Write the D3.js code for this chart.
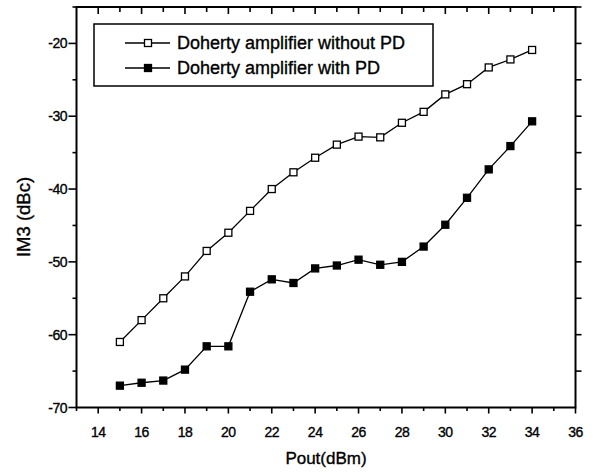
<!DOCTYPE html>
<html>
<head>
<meta charset="utf-8">
<script src="https://cdn.jsdelivr.net/npm/d3@7"></script>
<style>
  html, body { margin:0; padding:0; background:#fff; }
  svg { display:block; font-family: "Liberation Sans", Arial, sans-serif; }
  text { stroke:#000; stroke-width:0.35px; }
  .tick-label { font-size:14px; fill:#000; }
  .title { font-size:17px; fill:#000; }
  .legend-text { font-size:18px; fill:#000; }
</style>
</head>
<body>
<svg id="chart" width="595" height="473"></svg>
<script>
// data
const pout = [15,16,17,18,19,20,21,22,23,24,25,26,27,28,29,30,31,32,33,34];
const withoutPD = [-61,-58,-55,-52,-48.5,-46,-43,-40,-37.7,-35.7,-33.9,-32.8,-32.9,-30.9,-29.4,-27,-25.6,-23.3,-22.2,-20.9];
const withPD = [-67,-66.6,-66.3,-64.8,-61.6,-61.6,-54.1,-52.4,-52.9,-50.9,-50.5,-49.7,-50.4,-50,-47.9,-44.9,-41.2,-37.3,-34.1,-30.7];
const seriesNames = ['Doherty amplifier without PD', 'Doherty amplifier with PD'];
const xTicks = [14,16,18,20,22,24,26,28,30,32,34,36];
const yTicks = [-70,-60,-50,-40,-30,-20];

const svg = d3.select('#chart');
const m = {left:76.5, right:575.5, top:7, bottom:407.5};

const x = d3.scaleLinear().domain([13,36]).range([m.left, m.right]);
const y = d3.scaleLinear().domain([-70,-15]).range([m.bottom, m.top]);

const g = svg.append('g');

// ticks helper
function line(x1,y1,x2,y2,w){
  g.append('line').attr('x1',x1).attr('y1',y1).attr('x2',x2).attr('y2',y2)
    .attr('stroke','#000').attr('stroke-width',w||1.5);
}

// bottom axis: major outward + minor
d3.range(13,37).forEach(v=>{
  const major = v%2===0;
  line(x(v), m.bottom, x(v), m.bottom + (major?6:3.5), 1.6);
});
// top axis: inward ticks each unit
d3.range(14,36).forEach(v=>{
  line(x(v), m.top, x(v), m.top + (v%2===0?7:5), 1.6);
});
// left axis: outward
d3.range(-70,-14,5).forEach(v=>{
  const major = v%10===0;
  line(m.left, y(v), m.left - (major?8:4), y(v), 1.6);
});
// right axis: outward
d3.range(-65,-14,5).forEach(v=>{
  line(m.right, y(v), m.right + 6, y(v), 1.6);
});

// frame
g.append('rect').attr('x',m.left).attr('y',m.top)
  .attr('width',m.right-m.left).attr('height',m.bottom-m.top)
  .attr('fill','none').attr('stroke','#000').attr('stroke-width',2);

// tick labels
g.selectAll('.xl').data(xTicks).join('text')
  .attr('class','tick-label').attr('text-anchor','middle')
  .attr('x',d=>x(d)).attr('y',437)
  .style('letter-spacing','-0.5px')
  .text(d=>d);
g.selectAll('.yl').data(yTicks).join('text')
  .attr('class','tick-label').attr('text-anchor','end')
  .attr('x',67).attr('y',d=>y(d)).attr('dy','0.36em')
  .style('letter-spacing','-0.5px')
  .text(d=>d);

// axis titles
g.append('text').attr('class','title').attr('text-anchor','middle')
  .attr('x',326).attr('y',464).text('Pout(dBm)');
g.append('text').attr('class','title').attr('text-anchor','middle')
  .attr('transform','translate(30,217) rotate(-90)').style('font-size','18.5px').text('IM3 (dBc)');

// series
const lineGen = d3.line().x((d,i)=>x(pout[i])).y(d=>y(d));
const ms = 7;
[withoutPD, withPD].forEach((vals, si)=>{
  g.append('path').datum(vals).attr('d', lineGen)
    .attr('fill','none').attr('stroke','#000').attr('stroke-width',1.3);
  g.selectAll('.pt'+si).data(vals).join('rect')
    .attr('x',(d,i)=>x(pout[i])-ms/2).attr('y',d=>y(d)-ms/2)
    .attr('width',ms).attr('height',ms)
    .attr('fill', si===0 ? '#fff' : '#000')
    .attr('stroke','#000').attr('stroke-width',1.3);
});

// legend
const lg = g.append('g');
lg.append('rect').attr('x',94).attr('y',24).attr('width',339).attr('height',62)
  .attr('fill','#fff').attr('stroke','#000').attr('stroke-width',1.5);
seriesNames.forEach((name,i)=>{
  const ly = 43 + i*25;
  lg.append('line').attr('x1',125).attr('x2',170).attr('y1',ly).attr('y2',ly)
    .attr('stroke','#000').attr('stroke-width',1.3);
  lg.append('rect').attr('x',148-ms/2).attr('y',ly-ms/2).attr('width',ms).attr('height',ms)
    .attr('fill', i===0 ? '#fff' : '#000').attr('stroke','#000').attr('stroke-width',1.3);
  lg.append('text').attr('class','legend-text').attr('x',177).attr('y',ly).attr('dy','0.36em')
    .text(name);
});
</script>
</body>
</html>
